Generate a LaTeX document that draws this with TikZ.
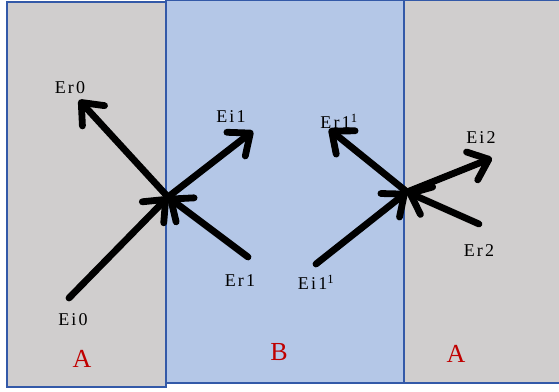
\documentclass[tikz,border=0pt]{standalone}
\usepackage{fontspec}
\setmainfont{Liberation Serif}
\usetikzlibrary{arrows.meta}
\definecolor{grayA}{HTML}{D0CECE}
\definecolor{blueB}{HTML}{B4C7E7}
\definecolor{edge}{HTML}{3359A8}
\definecolor{redlab}{HTML}{C00000}
\tikzset{
  zone/.style={draw=edge, line width=2.4pt},
  wave/.style={line width=6.8pt, line cap=round, line join=round,
    -{Straight Barb[length=18pt, width=30pt, line cap=round, line join=round]}},
  lab/.style={font=\fontsize{18}{20}\selectfont\addfontfeatures{LetterSpace=12}, inner sep=0pt},
  medium/.style={font=\fontsize{26}{28}\selectfont, text=redlab, inner sep=0pt}
}
\begin{document}
\begin{tikzpicture}[x=1pt, y=-1pt]
\useasboundingbox (0,0) rectangle (559,391);
\fill[white] (0,0) rectangle (559,391);
% zones
\path[zone, fill=blueB] (166,0) rectangle (404,383);
\path[zone, fill=grayA] (404,0) rectangle (570,383);
\path[zone, fill=grayA] (7,2) rectangle (166,387);
% points
\coordinate (J1) at (168,197);
\coordinate (J2) at (407,192);
\coordinate (ei0) at (69,298);
\coordinate (er0) at (79,100);
\coordinate (ei1) at (253,131);
\coordinate (er1) at (248,257);
\coordinate (ei11) at (316,264);
\coordinate (er11) at (329,129);
\coordinate (ei2) at (492,158);
\coordinate (er2) at (479,224);
% arrows
\draw[wave] (ei0) -- (J1);
\draw[wave] (er1) -- (J1);
\draw[wave] (J1) -- (er0);
\draw[wave] (J1) -- (ei1);
\draw[wave] (ei11) -- (J2);
\draw[wave] (er2) -- (J2);
\draw[wave] (J2) -- (er11);
\draw[wave] (J2) -- (ei2);
% labels
\node[lab] (tEr0) at (70,88) {Er0};
\node[lab] (tEi1) at (231,117) {Ei1};
\node[lab] (tEr11) at (339,121) {Er1\textsuperscript{1}};
\node[lab] (tEi2) at (481,138) {Ei2};
\node[lab] (tEi0) at (73,320) {Ei0};
\node[lab] (tEr1) at (240,281) {Er1};
\node[lab] (tEi11) at (316,282) {Ei1\textsuperscript{1}};
\node[lab] (tEr2) at (479,251) {Er2};
\node[medium] (mA1) at (82,359) {A};
\node[medium] (mB) at (279,352) {B};
\node[medium] (mA2) at (456,354) {A};
\end{tikzpicture}
\end{document}
